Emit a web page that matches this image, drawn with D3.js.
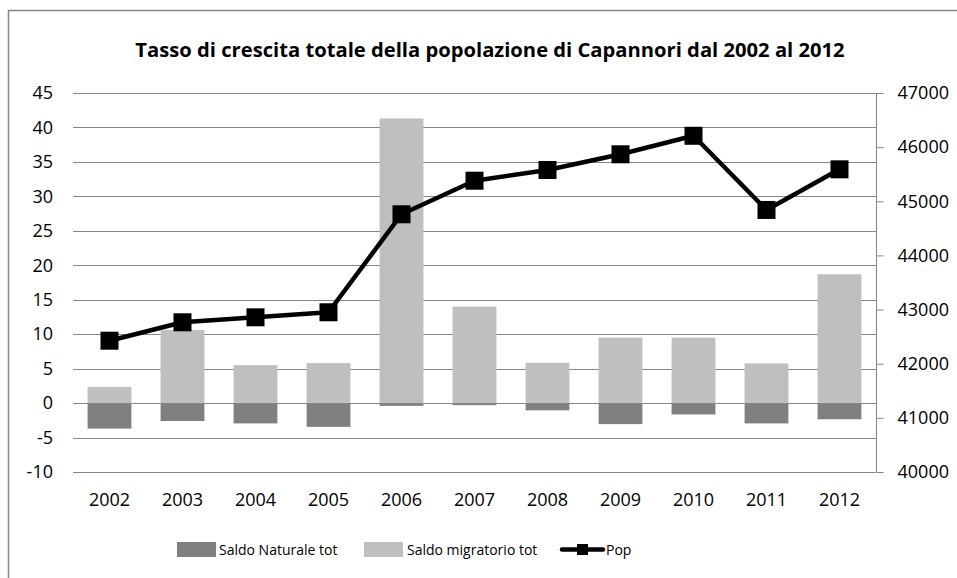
<!DOCTYPE html>
<html>
<head>
<script src="https://cdn.jsdelivr.net/npm/d3@7"></script>
<style>
body { margin: 0; background: #fff; }
text { font-family: "Open Sans", sans-serif; fill: #000; }
.grid line { stroke: #868686; stroke-width: 1; }
</style>
</head>
<body>
<div id="chart"></div>
<script>
var years = ["2002","2003","2004","2005","2006","2007","2008","2009","2010","2011","2012"];
var saldoNaturale = [-3.7, -2.6, -2.95, -3.45, -0.4, -0.3, -1.05, -3.05, -1.65, -2.95, -2.35];
var saldoMigratorio = [2.35, 10.6, 5.5, 5.8, 41.3, 14.0, 5.85, 9.5, 9.5, 5.75, 18.7];
var pop = [42425, 42765, 42857, 42950, 44760, 45380, 45578, 45868, 46210, 44840, 45590];
var leftTicks = d3.range(-10, 46, 5);
var rightTicks = d3.range(40000, 47001, 1000);

var w = 957, h = 578;
var plotL = 73, plotR = 876, plotT = 93, plotB = 472;

var svg = d3.select("#chart").append("svg")
    .attr("width", w)
    .attr("height", h);

// chart area border (cut at right and bottom)
svg.append("path")
    .attr("d", "M8.5,578V10.5H957")
    .attr("fill", "none")
    .attr("stroke", "#868686")
    .attr("stroke-width", 1.5);

var x = d3.scaleBand().domain(years).range([plotL, plotR]).paddingInner(0.4).paddingOuter(0.2);
var y = d3.scaleLinear().domain([-10, 45]).range([plotB, plotT]);
var y2 = d3.scaleLinear().domain([40000, 47000]).range([plotB, plotT]);

svg.append("text")
    .attr("x", 490)
    .attr("y", 57)
    .attr("text-anchor", "middle")
    .style("font-weight", "bold")
    .style("font-size", "20.2px")
    .text("Tasso di crescita totale della popolazione di Capannori dal 2002 al 2012");

// gridlines
svg.append("g").attr("class", "grid")
  .selectAll("line")
  .data(leftTicks)
  .enter().append("line")
    .attr("x1", plotL).attr("x2", plotR)
    .attr("y1", function(d) { return Math.round(y(d)) + 0.5; })
    .attr("y2", function(d) { return Math.round(y(d)) + 0.5; });

// left labels
svg.append("g").selectAll("text")
    .data(leftTicks)
  .enter().append("text")
    .attr("x", 53)
    .attr("y", function(d) { return y(d); })
    .attr("dy", "0.35em")
    .attr("text-anchor", "end")
    .style("font-size", "18px")
    .text(function(d) { return d; });

// bars
svg.append("g").selectAll("rect")
    .data(saldoMigratorio)
  .enter().append("rect")
    .attr("x", function(d, i) { return x(years[i]); })
    .attr("width", x.bandwidth())
    .attr("y", function(d) { return y(d); })
    .attr("height", function(d) { return y(0) - y(d); })
    .attr("fill", "#bfbfbf");

svg.append("g").selectAll("rect")
    .data(saldoNaturale)
  .enter().append("rect")
    .attr("x", function(d, i) { return x(years[i]); })
    .attr("width", x.bandwidth())
    .attr("y", y(0))
    .attr("height", function(d) { return y(d) - y(0); })
    .attr("fill", "#808080");

// category axis at 0
svg.append("line")
    .attr("x1", plotL).attr("x2", plotR)
    .attr("y1", Math.round(y(0)) + 0.5).attr("y2", Math.round(y(0)) + 0.5)
    .attr("stroke", "#868686");

// right axis
var rAxis = svg.append("g")
    .attr("transform", "translate(" + (plotR + 0.5) + ",0)")
    .call(d3.axisRight(y2).tickValues(rightTicks).tickSize(7).tickPadding(14).tickFormat(d3.format("d")));
rAxis.selectAll("line, path").attr("stroke", "#868686");
rAxis.select(".domain").attr("d", "M0," + plotT + "V" + plotB);
rAxis.selectAll("text").style("font-size", "18px").style("font-family", "Open Sans").attr("fill", "#000");

// x labels
svg.append("g").selectAll("text")
    .data(years)
  .enter().append("text")
    .attr("x", function(d) { return x(d) + x.bandwidth() / 2; })
    .attr("y", 506)
    .attr("text-anchor", "middle")
    .style("font-size", "18px")
    .text(function(d) { return d; });

// pop line
var line = d3.line()
    .x(function(d, i) { return x(years[i]) + x.bandwidth() / 2; })
    .y(function(d) { return y2(d); });

svg.append("path")
    .datum(pop)
    .attr("d", line)
    .attr("fill", "none")
    .attr("stroke", "#000")
    .attr("stroke-width", 4.5)
    .attr("stroke-linejoin", "round");

svg.append("g").selectAll("rect")
    .data(pop)
  .enter().append("rect")
    .attr("x", function(d, i) { return x(years[i]) + x.bandwidth() / 2 - 9; })
    .attr("y", function(d) { return y2(d) - 9; })
    .attr("width", 18)
    .attr("height", 18)
    .attr("fill", "#000");

// legend
var legend = svg.append("g");
legend.append("rect").attr("x", 177).attr("y", 542).attr("width", 39).attr("height", 15).attr("fill", "#808080");
legend.append("text").attr("x", 219).attr("y", 555).style("font-size", "14px").text("Saldo Naturale tot");
legend.append("rect").attr("x", 364).attr("y", 542).attr("width", 39).attr("height", 15).attr("fill", "#bfbfbf");
legend.append("text").attr("x", 407).attr("y", 555).style("font-size", "14px").text("Saldo migratorio tot");
legend.append("line").attr("x1", 562).attr("x2", 603).attr("y1", 549.5).attr("y2", 549.5)
    .attr("stroke", "#000").attr("stroke-width", 4.5).attr("stroke-linecap", "round");
legend.append("rect").attr("x", 577).attr("y", 544).attr("width", 11).attr("height", 11).attr("fill", "#000");
legend.append("text").attr("x", 606).attr("y", 555).style("font-size", "14px").text("Pop");
</script>
</body>
</html>
